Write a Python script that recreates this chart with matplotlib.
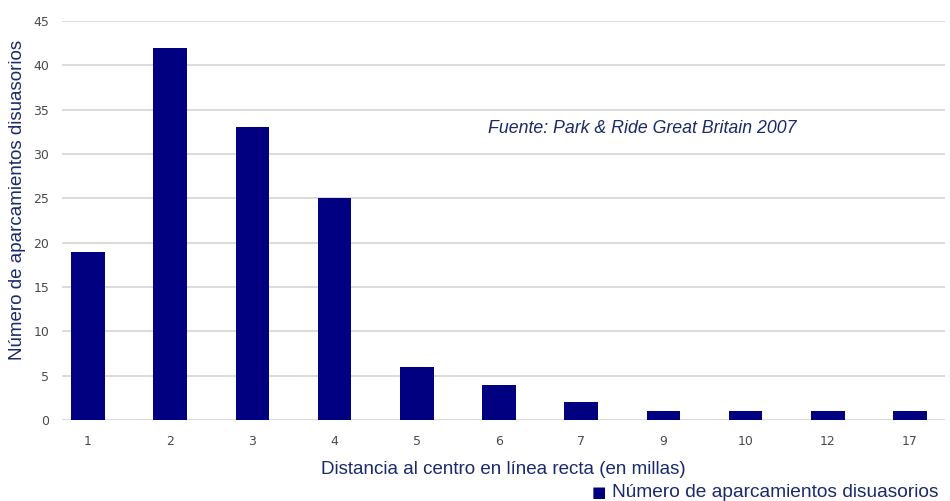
import matplotlib.pyplot as plt
import numpy as np

# -------------------------------
# DATA
# -------------------------------
distancias = ["1", "2", "3", "4", "5", "6", "7", "9", "10", "12", "17"]
aparcamientos = [19, 42, 33, 25, 6, 4, 2, 1, 1, 1, 1]
y_ticks = [0, 5, 10, 15, 20, 25, 30, 35, 40, 45]

NAVY = "#000080"
TEXT_BLUE = "#1a2a6c"
TICK_GRAY = "#4a4a4a"
GRID = "#d4d4d4"

fig = plt.figure(figsize=(9.5, 5.01), dpi=100)
ax = fig.add_axes([0.065, 0.1617, 0.93, 0.7965])

x = np.arange(len(distancias))
ax.bar(x, aparcamientos, width=0.41, color=NAVY, zorder=3)

ax.set_xlim(-0.32, len(distancias) - 0.57)
ax.set_ylim(0, 45)
ax.set_yticks(y_ticks)
ax.set_xticks(x)
ax.set_xticklabels(distancias)
ax.grid(axis="y", color=GRID, linewidth=1.2, zorder=0)
for s in ax.spines.values():
    s.set_visible(False)
ax.tick_params(axis="both", length=0, labelsize=9, labelcolor=TICK_GRAY)
ax.tick_params(axis="x", pad=11)
ax.tick_params(axis="y", pad=9)

lab_font = dict(family="Liberation Sans", fontsize=13.5, color=TEXT_BLUE)
ax.set_ylabel("Número de aparcamientos disuasorios", **lab_font)
ax.yaxis.set_label_coords(-0.041, 0.551)
ax.set_xlabel("Distancia al centro en línea recta (en millas)", labelpad=9, **lab_font)

ax.text(0.482, 0.73, "Fuente: Park & Ride Great Britain 2007",
        transform=ax.transAxes, family="Liberation Sans", style="italic",
        fontsize=12.8, color=TEXT_BLUE, va="center")

# legend at bottom right
fig.text(0.623, 0.016, "\u25A0", fontsize=11, color=NAVY, va="center")
fig.text(0.644, 0.016, "Número de aparcamientos disuasorios",
         va="center", family="Liberation Sans", fontsize=13.8, color=TEXT_BLUE)

fig.savefig("out.png", dpi=100)
